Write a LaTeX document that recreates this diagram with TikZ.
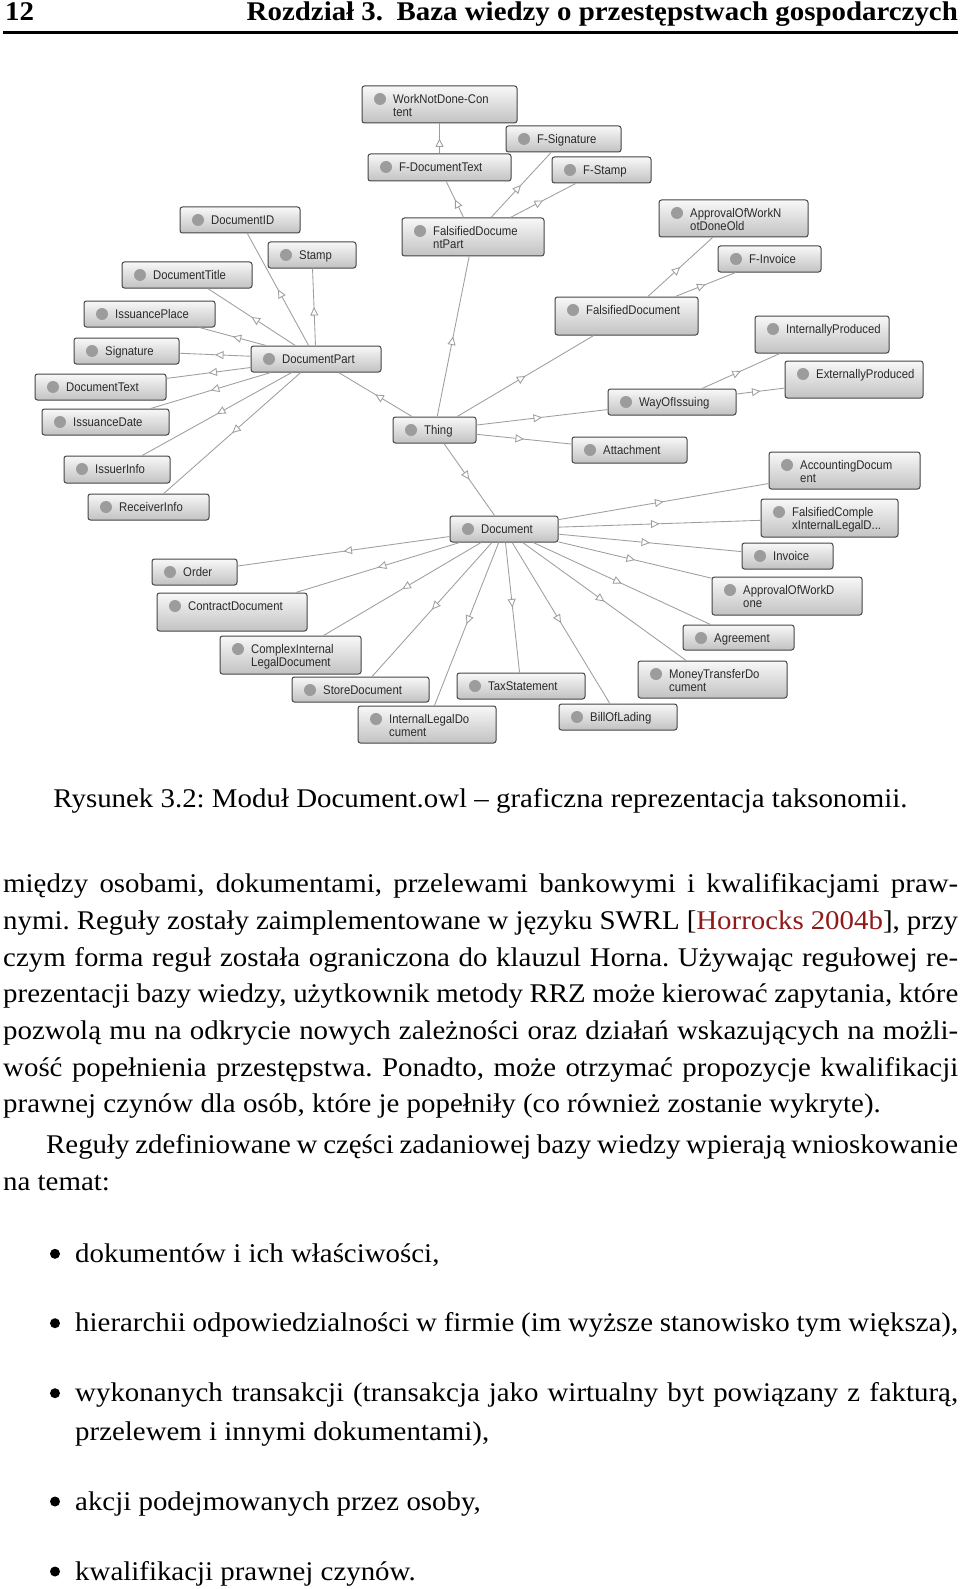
\documentclass[tikz,border=0pt]{standalone}
\usepackage{fontspec}
\setmainfont{Liberation Serif}[FakeStretch=1.07]
\newfontfamily\diafont{Liberation Sans}[FakeStretch=0.9]
\usepackage{xcolor}
\usetikzlibrary{arrows.meta,decorations.markings,positioning}
\definecolor{boxtop}{HTML}{F8F8F8}
\definecolor{boxbot}{HTML}{C2C2C2}
\definecolor{boxline}{HTML}{454545}
\definecolor{dotgray}{HTML}{9C9C9C}
\definecolor{edgegray}{HTML}{9E9E9E}
\definecolor{labelgray}{HTML}{2B2B2B}
\definecolor{linkred}{HTML}{8E1B1B}
\tikzstyle{cls}		= [rectangle, rounded corners=2.5pt, draw=boxline, line width=1pt, top color=boxtop, bottom color=boxbot, inner sep=0pt]
\tikzstyle{clsdot}	= [circle, fill=dotgray, minimum size=12pt, inner sep=0pt]
\tikzstyle{clstext}	= [inner sep=0pt, text=labelgray, font=\diafont\fontsize{12.6}{13.3}\selectfont]
\tikzstyle{isa}		= [draw, color=edgegray, line width=0.85pt, postaction={decorate}, decoration={markings, mark=at position 0.5 with {\arrow{Triangle[length=8.5pt,width=8pt,fill=white]}}}]
\tikzstyle{body}	= [inner sep=0pt, font=\fontsize{27}{36.7}\selectfont\frenchspacing]
\tikzstyle{bullet}	= [circle, fill=black, minimum size=10pt, inner sep=0pt]
\begin{document}
\begin{tikzpicture}[x=1pt, y=-1pt]
		\useasboundingbox (0,0) rectangle (960,1589);
		\fill[white] (0,0) rectangle (960,1589);
		
		%%%% Page header
		\node[body, font=\fontsize{27}{36.7}\selectfont\bfseries, anchor=base west] (pnum) at (5,21) {12};
		\node[body, font=\fontsize{27}{36.7}\selectfont\bfseries, anchor=base east] (head) at (958,21) {Rozdział 3.\hspace{0.5em}Baza wiedzy o przestępstwach gospodarczych};
		\draw[line width=2.5pt] (3,32.5) -- (958,32.5);
		
		%%%% Classes (name/left/top/right/bottom/line1/line2)
		\foreach \name/\lx/\ty/\rx/\by/\first/\second in {
			wnd/362/86/517/123/{WorkNotDone-Con}/{tent},
			fsig/506/126/621/152/{F-Signature}/{},
			fdt/368/154/511/181/{F-DocumentText}/{},
			fst/552/157/651/183/{F-Stamp}/{},
			did/180/207/300/233/{DocumentID}/{},
			stp/268/242/356/268/{Stamp}/{},
			dti/122/262/252/288/{DocumentTitle}/{},
			fdp/402/218/544/256/{FalsifiedDocume}/{ntPart},
			awndo/659/200/808/237/{ApprovalOfWorkN}/{otDoneOld},
			finv/718/246/821/272/{F-Invoice}/{},
			ipl/84/301/215/327/{IssuancePlace}/{},
			sig/74/338/179/364/{Signature}/{},
			dpa/251/346/381/372/{DocumentPart}/{},
			dtx/35/374/166/400/{DocumentText}/{},
			ida/42/409/169/435/{IssuanceDate}/{},
			iin/64/456/170/483/{IssuerInfo}/{},
			rin/88/494/209/520/{ReceiverInfo}/{},
			thg/393/417/476/443/{Thing}/{},
			fdoc/555/297/698/335/{FalsifiedDocument}/{},
			ipr/755/316/889/353/{InternallyProduced}/{},
			epr/785/361/923/398/{ExternallyProduced}/{},
			woi/608/389/736/415/{WayOfIssuing}/{},
			att/572/437/687/463/{Attachment}/{},
			acc/769/452/920/489/{AccountingDocum}/{ent},
			fcil/761/499/898/537/{FalsifiedComple}/{xInternalLegalD...},
			doc/450/516/558/542/{Document}/{},
			inv/742/543/833/569/{Invoice}/{},
			awd/712/577/862/615/{ApprovalOfWorkD}/{one},
			agr/683/625/794/650/{Agreement}/{},
			mtd/638/661/787/698/{MoneyTransferDo}/{cument},
			bol/559/704/677/730/{BillOfLading}/{},
			tax/457/673/585/699/{TaxStatement}/{},
			ild/358/706/496/743/{InternalLegalDo}/{cument},
			sto/292/677/429/702/{StoreDocument}/{},
			cild/220/636/361/674/{ComplexInternal}/{LegalDocument},
			con/157/593/307/631/{ContractDocument}/{},
			ord/152/559/237/585/{Order}/{}}
		{
			\node[cls, minimum width={\rx-\lx}, minimum height={\by-\ty}] (\name) at ({(\lx+\rx)/2},{(\ty+\by)/2}) {};
			\node[clsdot] (\name-d) at (\lx+18,\ty+13) {};
			\node[clstext, anchor=base west] (\name-a) at (\lx+31,\ty+17.5) {\first};
			\node[clstext, anchor=base west] (\name-b) at (\lx+31,\ty+30.8) {\second};
		}
		
		%%%% Subclass links
		\foreach \source/ \dest in {thg/dpa,thg/fdp,thg/fdoc,thg/woi,thg/att,thg/doc}	\path[isa] (\source) -- (\dest) ;
		\foreach \source/ \dest in {dpa/did,dpa/stp,dpa/dti,dpa/ipl,dpa/sig,dpa/dtx,dpa/ida,dpa/iin,dpa/rin}	\path[isa] (\source) -- (\dest) ;
		\foreach \source/ \dest in {fdp/fdt,fdp/fsig,fdp/fst,fdt/wnd}	\path[isa] (\source) -- (\dest) ;
		\foreach \source/ \dest in {fdoc/awndo,fdoc/finv,woi/ipr,woi/epr}	\path[isa] (\source) -- (\dest) ;
		\foreach \source/ \dest in {doc/acc,doc/fcil,doc/inv,doc/awd,doc/agr,doc/mtd,doc/bol,doc/tax,doc/ild,doc/sto,doc/cild,doc/con,doc/ord}	\path[isa] (\source) -- (\dest) ;
		
		%%%% Caption
		\node[body, anchor=base] (capt) at (480.5,807) {Rysunek 3.2: Moduł Document.owl – graficzna reprezentacja taksonomii.};
		
		%%%% Paragraph (justified lines)
		\foreach \y/\n/\txt in {
			892.7/pa/{między osobami, dokumentami, przelewami bankowymi i kwalifikacjami praw-},
			929.4/pb/{nymi. Reguły zostały zaimplementowane w języku SWRL [\textcolor{linkred}{Horrocks 2004b}], przy},
			966.1/pc/{czym forma reguł została ograniczona do klauzul Horna. Używając regułowej re-},
			1002.8/pd/{prezentacji bazy wiedzy, użytkownik metody RRZ może kierować zapytania, które},
			1039.5/pe/{pozwolą mu na odkrycie nowych zależności oraz działań wskazujących na możli-},
			1076.2/pf/{wość popełnienia przestępstwa. Ponadto, może otrzymać propozycje kwalifikacji}}
		\node[body, anchor=base west] (\n) at (3,\y) {\makebox[955pt][s]{\txt}};
		\node[body, anchor=base west] (pg) at (3,1112.9) {prawnej czynów dla osób, które je popełniły (co również zostanie wykryte).};
		\node[body, anchor=base west] (qa) at (46,1153.3) {\makebox[912pt][s]{Reguły zdefiniowane w części zadaniowej bazy wiedzy wpierają wnioskowanie}};
		\node[body, anchor=base west] (qb) at (3,1190) {na temat:};
		
		%%%% List
		\foreach \y/\n in {1262.3/ia, 1331.7/ib, 1401.7/ic, 1510/id, 1580/ie}
		\node[bullet] (\n-b) at (55,\y-8.5) {};
		\node[body, anchor=base west] (ia) at (75,1262.3) {dokumentów i ich właściwości,};
		\node[body, anchor=base west] (ib) at (75,1331.7) {\makebox[883pt][s]{hierarchii odpowiedzialności w firmie (im wyższe stanowisko tym większa),}};
		\node[body, anchor=base west] (ic) at (75,1401.7) {\makebox[883pt][s]{wykonanych transakcji (transakcja jako wirtualny byt powiązany z fakturą,}};
		\node[body, anchor=base west] (ic2) at (75,1440) {przelewem i innymi dokumentami),};
		\node[body, anchor=base west] (id) at (75,1510) {akcji podejmowanych przez osoby,};
		\node[body, anchor=base west] (ie) at (75,1580) {kwalifikacji prawnej czynów.};
\end{tikzpicture}
\end{document}
